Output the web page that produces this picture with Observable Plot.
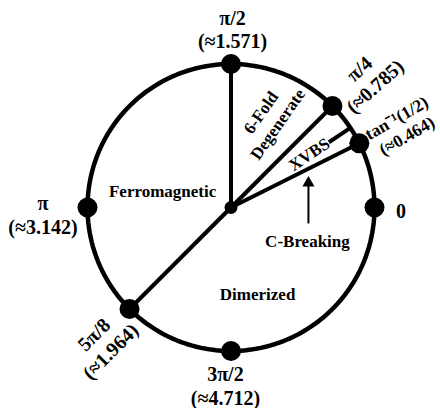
<!DOCTYPE html>
<html>
<head>
<meta charset="utf-8">
<script src="https://cdn.jsdelivr.net/npm/d3@7"></script>
<script src="https://cdn.jsdelivr.net/npm/@observablehq/plot@0.6"></script>
<style>
  html, body { margin: 0; padding: 0; background: #fff; }
  #chart svg { display: block; }
</style>
</head>
<body>
<div id="chart"></div>
<script>
// ---- data ----
const pointAngles = [0, 0.4636, 0.7854, 1.5708, 3.1416, 3.9270, 4.7124];
const pointLabels = ["0", "tan⁻¹(1/2)\n(≈0.464)", "π/4\n(≈0.785)", "π/2\n(≈1.571)", "π\n(≈3.142)", "5π/8\n(≈1.964)", "3π/2\n(≈4.712)"];
const boundaryAngles = [0.4636, 0.7854, 1.5708, 3.9270];
const xvbsAngle = 0.588;
const regionNames = ["Ferromagnetic", "Dimerized", "6-Fold\nDegenerate", "XVBS", "C-Breaking"];

// ---- layout (polar: angle in degrees, radius in circle units, text rotation, font size) ----
const pointLabelLayout = [
  {deg: -1.0, r: 1.185, rot: 0, fs: 20},
  {deg: 25.5, r: 1.315, rot: -30, fs: 17.5},
  {deg: 43.9, r: 1.311, rot: -42, fs: 20},
  {deg: 89.5, r: 1.244, rot: 0, fs: 20},
  {deg: 182.1, r: 1.311, rot: 0, fs: 20},
  {deg: 226.2, r: 1.303, rot: -45, fs: 20},
  {deg: 268.2, r: 1.241, rot: 0, fs: 20}
];
const regionLayout = [
  {deg: 166.1, r: 0.491, rot: 0},
  {deg: 287.2, r: 0.627, rot: 0},
  {deg: 67.3, r: 0.677, rot: -55},
  {deg: 34.8, r: 0.658, rot: -34},
  {deg: -23.3, r: 0.580, rot: 0}
];

const rad = d => d * Math.PI / 180;
const px = (a, r) => r * Math.cos(a);
const py = (a, r) => r * Math.sin(a);

const circle = d3.range(0, 361, 2).map(d => ({x: Math.cos(rad(d)), y: Math.sin(rad(d))}));
const points = pointAngles.map((a, i) => ({x: px(a, 1), y: py(a, 1), label: pointLabels[i],
  lx: px(rad(pointLabelLayout[i].deg), pointLabelLayout[i].r),
  ly: py(rad(pointLabelLayout[i].deg), pointLabelLayout[i].r),
  rot: pointLabelLayout[i].rot, fs: pointLabelLayout[i].fs}));
const spokes = boundaryAngles.map(a => ({x1: 0, y1: 0, x2: px(a, 1), y2: py(a, 1)}));
const xvbs = [{x1: px(xvbsAngle, 0.82), y1: py(xvbsAngle, 0.82), x2: px(xvbsAngle, 1), y2: py(xvbsAngle, 1)}];
const regions = regionNames.map((t, i) => ({text: t,
  x: px(rad(regionLayout[i].deg), regionLayout[i].r),
  y: py(rad(regionLayout[i].deg), regionLayout[i].r),
  rot: regionLayout[i].rot}));
// arrow pointing up at the C-Breaking boundary
const arrowX = regions[4].x + 0.007;
const arrow = [{x1: arrowX, y1: -0.111, x2: arrowX, y2: 0.16}];
const arrowHead = [{x: arrowX, y: 0.17}];

const W = 440, H = 408, cx = 230.5, cy = 207, R = 143.5;
const font = "'Liberation Serif', 'Times New Roman', serif";

const chart = Plot.plot({
  width: W, height: H,
  margin: 0,
  x: {domain: [-cx / R, (W - cx) / R], axis: null},
  y: {domain: [(cy - H) / R, cy / R], axis: null},
  style: {fontFamily: font, background: "white"},
  marks: [
    Plot.line(circle, {x: "x", y: "y", stroke: "black", strokeWidth: 4.5}),
    Plot.link(spokes, {x1: "x1", y1: "y1", x2: "x2", y2: "y2", stroke: "black", strokeWidth: 4}),
    Plot.link(xvbs, {x1: "x1", y1: "y1", x2: "x2", y2: "y2", stroke: "black", strokeWidth: 4}),
    Plot.dot(points, {x: "x", y: "y", r: 10, fill: "black"}),
    Plot.dot([{x: 0, y: 0}], {x: "x", y: "y", r: 6.5, fill: "black"}),
    Plot.link(arrow, {x1: "x1", y1: "y1", x2: "x2", y2: "y2", stroke: "black", strokeWidth: 2}),
    Plot.dot(arrowHead, {x: "x", y: "y", symbol: "triangle", r: 4.5, fill: "black"}),
    Plot.text(points, {x: "lx", y: "ly", text: "label", rotate: "rot", fontSize: "fs", fontWeight: "bold",
      lineHeight: 1.18, fill: "black", textAnchor: "middle", lineAnchor: "middle"}),
    Plot.text(regions, {x: "x", y: "y", text: "text", rotate: "rot", fontSize: 17, fontWeight: "bold",
      lineHeight: 1.2, fill: "black", textAnchor: "middle", lineAnchor: "middle"})
  ]
});
document.getElementById("chart").appendChild(chart);
</script>
</body>
</html>
